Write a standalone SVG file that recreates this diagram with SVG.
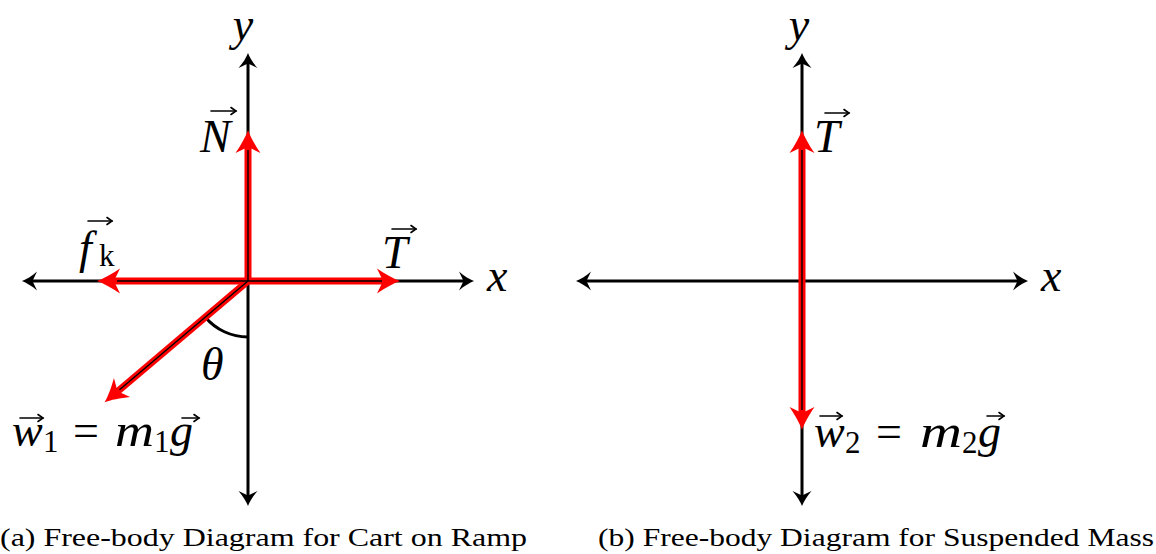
<svg xmlns="http://www.w3.org/2000/svg" width="1156" height="554" viewBox="0 0 1156 554">
<style>
.axis{stroke:#000;stroke-width:3;fill:none}
.rf{stroke:#f00;stroke-width:7;fill:none}
.rc{stroke:#000;stroke-width:1.4;fill:none}
.arc{stroke:#000;stroke-width:3;fill:none}
.m{font-family:"Liberation Serif","DejaVu Serif",serif;font-style:italic;font-size:46px;fill:#000}
.u{font-family:"Liberation Serif","DejaVu Serif",serif;font-style:normal;font-size:46px;fill:#000}
.s{font-family:"Liberation Serif","DejaVu Serif",serif;font-style:normal;font-size:31px;fill:#000}
.cap{font-family:"Liberation Serif","DejaVu Serif",serif;font-size:25px;fill:#000}
.vec{stroke:#000;stroke-width:1.6;fill:none;stroke-linecap:round}
</style>
<defs>
<path id="bh" d="M0,0 C-4,1.5 -10,5 -15,9.5 L-10.5,0 L-15,-9.5 C-10,-5 -4,-1.5 0,0 Z" fill="#000"/>
<path id="rh" d="M0,0 C-6,2 -15,7 -23,12.5 L-17,0 L-23,-12.5 C-15,-7 -6,-2 0,0 Z" fill="#f00"/>
<path id="vh" d="M-5,-3.5 L0,0 L-5,3.5" class="vec"/>
</defs>

<g id="diagram-a">
<g id="axes-a">
<line class="axis" x1="30" y1="281" x2="466" y2="281"/>
<line class="axis" x1="248" y1="61" x2="248" y2="498"/>
<use href="#bh" transform="translate(22,281) rotate(180)"/>
<use href="#bh" transform="translate(474,281)"/>
<use href="#bh" transform="translate(248,53) rotate(-90)"/>
<use href="#bh" transform="translate(248,506) rotate(90)"/>
</g>
<path id="angle-theta" class="arc" d="M248,337 A56,56 0 0 1 205.1,317"/>
<g id="forces-a">
<line class="rf" x1="248" y1="281" x2="248" y2="146"/>
<line class="rf" x1="248" y1="281" x2="386" y2="281"/>
<line class="rf" x1="248" y1="281" x2="113" y2="281"/>
<line class="rf" x1="248" y1="281" x2="116.5" y2="392.3"/>
<line class="rc" x1="248" y1="281" x2="248" y2="150"/>
<line class="rc" x1="248" y1="281" x2="382" y2="281"/>
<line class="rc" x1="248" y1="281" x2="117" y2="281"/>
<line class="rc" x1="248" y1="281" x2="119.5" y2="389.8"/>
<use href="#rh" transform="translate(248,130) rotate(-90)"/>
<use href="#rh" transform="translate(400,281)"/>
<use href="#rh" transform="translate(97,281) rotate(180)"/>
<use href="#rh" transform="translate(104.5,402.3) rotate(139.7)"/>
</g>
<g id="labels-a">
<text class="m" x="243" y="40" text-anchor="middle" font-size="38">y</text>
<text class="m" x="487" y="291" font-size="42">x</text>
<text class="m" x="200" y="152">N</text>
<line class="vec" x1="211" y1="111" x2="236" y2="111"/><use href="#vh" transform="translate(236,111)"/>
<text class="m" x="382" y="268">T</text>
<line class="vec" x1="392" y1="229" x2="416" y2="229"/><use href="#vh" transform="translate(416,229)"/>
<text class="m" x="79" y="263">f</text>
<text class="s" x="99" y="266">k</text>
<line class="vec" x1="88" y1="221" x2="112" y2="221"/><use href="#vh" transform="translate(112,221)"/>
<text class="m" x="201" y="380">θ</text>
<text class="m" x="12" y="446">w</text>
<text class="s" x="43" y="452">1</text>
<text class="u" x="73" y="446">=</text>
<text class="m" x="115" y="446" textLength="39" lengthAdjust="spacingAndGlyphs">m</text>
<text class="s" x="154" y="452">1</text>
<text class="m" x="170" y="446">g</text>
<line class="vec" x1="20" y1="418" x2="43" y2="418"/><use href="#vh" transform="translate(43,418)"/>
<line class="vec" x1="182" y1="418" x2="199" y2="418"/><use href="#vh" transform="translate(199,418)"/>
<text class="cap" x="0" y="546" textLength="527" lengthAdjust="spacingAndGlyphs">(a) Free-body Diagram for Cart on Ramp</text>
</g>
</g>

<g id="diagram-b">
<g id="axes-b">
<line class="axis" x1="584" y1="281" x2="1020" y2="281"/>
<line class="axis" x1="802" y1="61" x2="802" y2="498"/>
<use href="#bh" transform="translate(576,281) rotate(180)"/>
<use href="#bh" transform="translate(1028,281)"/>
<use href="#bh" transform="translate(802,53) rotate(-90)"/>
<use href="#bh" transform="translate(802,506) rotate(90)"/>
</g>
<g id="forces-b">
<line class="rf" x1="802" y1="281" x2="802" y2="146"/>
<line class="rf" x1="802" y1="281" x2="802" y2="414"/>
<line class="rc" x1="802" y1="281" x2="802" y2="150"/>
<line class="rc" x1="802" y1="281" x2="802" y2="410"/>
<use href="#rh" transform="translate(802,130) rotate(-90)"/>
<use href="#rh" transform="translate(802,430) rotate(90)"/>
</g>
<g id="labels-b">
<text class="m" x="799" y="40" text-anchor="middle" font-size="38">y</text>
<text class="m" x="1041" y="291" font-size="42">x</text>
<text class="m" x="814" y="152">T</text>
<line class="vec" x1="825" y1="113" x2="849" y2="113"/><use href="#vh" transform="translate(849,113)"/>
<text class="m" x="814" y="447">w</text>
<text class="s" x="845" y="453">2</text>
<text class="u" x="876" y="447">=</text>
<text class="m" x="920" y="447" textLength="42" lengthAdjust="spacingAndGlyphs">m</text>
<text class="s" x="962" y="453">2</text>
<text class="m" x="978" y="447">g</text>
<line class="vec" x1="820" y1="416" x2="842" y2="416"/><use href="#vh" transform="translate(842,416)"/>
<line class="vec" x1="987" y1="416" x2="1004" y2="416"/><use href="#vh" transform="translate(1004,416)"/>
<text class="cap" x="598" y="546" textLength="556" lengthAdjust="spacingAndGlyphs">(b) Free-body Diagram for Suspended Mass</text>
</g>
</g>
</svg>
